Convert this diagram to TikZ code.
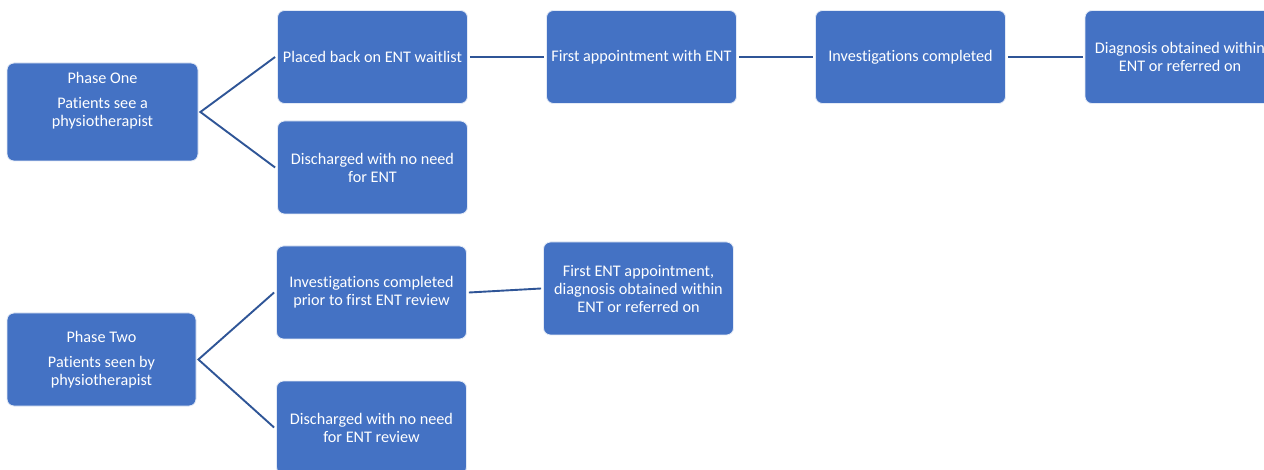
\documentclass[tikz,border=0pt]{standalone}
\usepackage{fontspec}
\setmainfont{Carlito}[Ligatures={NoCommon,NoRare,NoContextual}]
\definecolor{boxblue}{HTML}{4472C4}
\definecolor{lineblue}{HTML}{2F5597}
\begin{document}
\begin{tikzpicture}[x=1pt,y=-1pt,
  stepbox/.style={draw=white!85!boxblue,line width=0.8pt,fill=boxblue,rounded corners=7pt,
    minimum width=190pt,minimum height=93pt,text=white,align=center,inner sep=2pt,
    font=\fontsize{16.2}{18}\selectfont},
  conn/.style={draw=lineblue,line width=1.9pt}]
\useasboundingbox (0,0) rectangle (1264,470);
\clip (0,0) rectangle (1264,470);
\fill[white] (0,0) rectangle (1264,470);
% Phase one
\node[stepbox,minimum width=191pt,minimum height=98pt] (p1) at (102.5,112) {Phase One\\[7pt]Patients see a\\physiotherapist\\[8pt]\mbox{}};
\node[stepbox] (a1) at (372.5,57) {Placed back on ENT waitlist};
\node[stepbox] (a2) at (372.5,167.5) {Discharged with no need\\for ENT};
\node[stepbox] (b1) at (641.5,57) {First appointment with ENT};
\node[stepbox] (b2) at (910.5,57) {Investigations completed};
\node[stepbox] (b3) at (1180,57) {Diagnosis obtained within\\ENT or referred on};
% Phase two
\node[stepbox,minimum width=189pt] (p2) at (101.5,359.5) {Phase Two\\[7pt]Patients seen by\\physiotherapist};
\node[stepbox] (c1) at (371.5,292.5) {Investigations completed\\prior to first ENT review};
\node[stepbox] (c2) at (638.5,288.5) {First ENT appointment,\\diagnosis obtained within\\ENT or referred on};
\node[stepbox] (c3) at (371.5,427.5) {Discharged with no need\\for ENT review};
% connectors
\coordinate (p1r) at ([xshift=2pt]p1.east);
\coordinate (p2r) at ([xshift=2pt]p2.east);
\draw[conn] ([xshift=-2pt]a1.west) -- (p1r) -- ([xshift=-2pt]a2.west);
\draw[conn] ([xshift=2pt]a1.east) -- ([xshift=-2pt]b1.west);
\draw[conn] ([xshift=2pt]b1.east) -- ([xshift=-2pt]b2.west);
\draw[conn] ([xshift=2pt]b2.east) -- ([xshift=-2pt]b3.west);
\draw[conn] ([xshift=-2pt]c1.west) -- (p2r) -- ([xshift=-2pt]c3.west);
\draw[conn] ([xshift=2pt]c1.east) -- ([xshift=-2pt]c2.west);
\end{tikzpicture}
\end{document}
